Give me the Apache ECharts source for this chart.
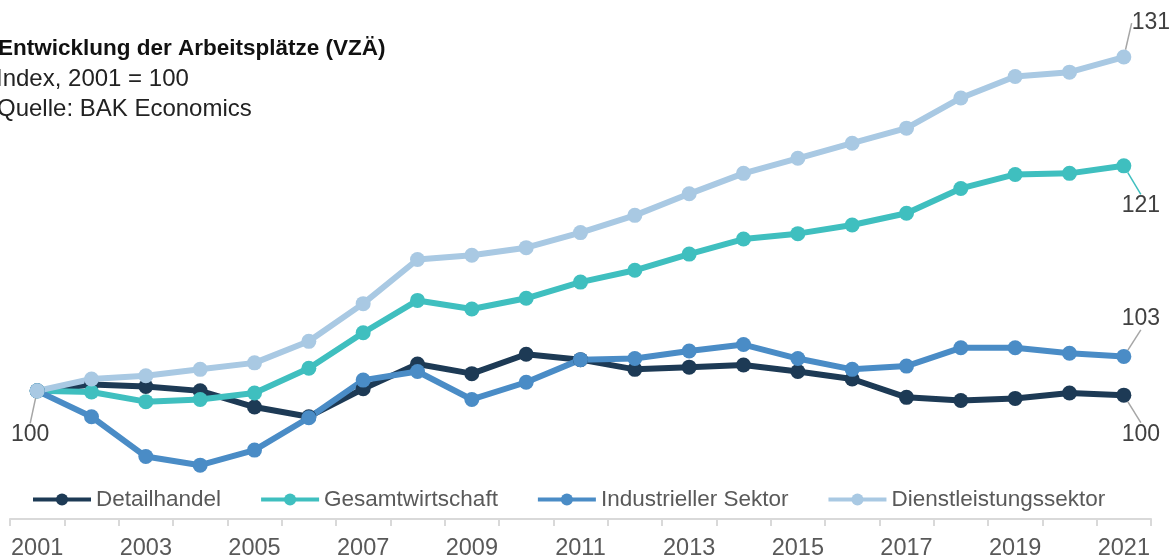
<!DOCTYPE html>
<html>
<head>
<meta charset="utf-8">
<script src="https://cdn.jsdelivr.net/npm/echarts@6/dist/echarts.min.js"></script>
<style>html,body{margin:0;padding:0;background:#fff}#c{width:1174px;height:558px}</style>
</head>
<body>
<div id="c"></div>
<script>
const years = ['2001','2002','2003','2004','2005','2006','2007','2008','2009','2010','2011','2012','2013','2014','2015','2016','2017','2018','2019','2020','2021'];
const detailhandel = [100,100.6,100.4,100.0,98.5,97.6,100.2,102.5,101.6,103.4,102.9,102.0,102.2,102.4,101.8,101.1,99.4,99.1,99.3,99.8,99.6];
const gesamtwirtschaft = [100,99.9,99.0,99.2,99.8,102.1,105.4,108.4,107.6,108.6,110.1,111.2,112.7,114.1,114.6,115.4,116.5,118.8,120.1,120.2,120.9];
const industriellerSektor = [100,97.6,93.9,93.1,94.5,97.5,101.0,101.8,99.2,100.8,102.9,103.0,103.7,104.3,103.0,102.0,102.3,104.0,104.0,103.5,103.2];
const dienstleistungssektor = [100,101.1,101.4,102.0,102.6,104.6,108.1,112.2,112.6,113.3,114.7,116.3,118.3,120.2,121.6,123.0,124.4,127.2,129.2,129.6,131.0];
const seriesNames = ['Detailhandel','Gesamtwirtschaft','Industrieller Sektor','Dienstleistungssektor'];

const FONT = '"Liberation Sans", Arial, sans-serif';
const colors = ['#1d3a55','#3fbfbf','#4a8cc6','#a9c9e3'];
const leaderColors = ['#a6a6a6','#3fbfbf','#a6a6a6','#a6a6a6'];
// label offsets (dx, dy) for end labels, per series
const endOffsets = [[17,39],[17,40],[17,-38],[27,-34]];
const startOffset = [-7,44];
const last = years.length - 1;

function buildData(values, si) {
  return values.map((v, i) => {
    const showEnd = i === last;
    const showStart = (si === 0 && i === 0);
    if (showEnd || showStart) {
      return {
        value: v,
        label: { show: true },
        labelLine: { show: true, lineStyle: { color: showStart ? '#a6a6a6' : leaderColors[si], width: 1.5 } }
      };
    }
    return v;
  });
}

const allValues = [detailhandel, gesamtwirtschaft, industriellerSektor, dienstleistungssektor];

const chart = echarts.init(document.getElementById('c'), null, {renderer: 'canvas'});
chart.setOption({
  animation: false,
  title: [
    { text: 'Entwicklung der Arbeitsplätze (VZÄ)', left: -2, top: 37, padding: 0,
      textStyle: { fontFamily: FONT, fontSize: 22.5, fontWeight: 'bold', color: '#111' } },
    { text: 'Index, 2001 = 100', left: -4, top: 67, padding: 0,
      textStyle: { fontFamily: FONT, fontSize: 24, fontWeight: 'normal', color: '#222' } },
    { text: 'Quelle: BAK Economics', left: -3, top: 97, padding: 0,
      textStyle: { fontFamily: FONT, fontSize: 24, fontWeight: 'normal', color: '#222' } }
  ],
  legend: {
    data: seriesNames,
    left: 31, top: 488,
    padding: 0,
    itemWidth: 58, itemHeight: 15, itemGap: 38,
    lineStyle: { width: 4 },
    textStyle: { fontFamily: FONT, fontSize: 22.5, color: '#595959' }
  },
  grid: { left: 10, right: 23, top: 14, bottom: 39, outerBoundsMode: 'none', containLabel: false },
  xAxis: {
    type: 'category', data: years, boundaryGap: true,
    axisLine: { lineStyle: { color: '#d9d9d9', width: 2 } },
    axisTick: { show: true, interval: 0, length: 7, lineStyle: { color: '#d9d9d9', width: 2 } },
    axisLabel: { interval: 1, fontFamily: FONT, fontSize: 23.5, color: '#595959', margin: 18 }
  },
  yAxis: { type: 'value', min: 88.1, max: 135, show: false },
  series: allValues.map((vals, si) => ({
    name: seriesNames[si],
    type: 'line',
    data: buildData(vals, si),
    symbol: 'circle', symbolSize: 15,
    lineStyle: { width: 6, color: colors[si] },
    itemStyle: { color: colors[si] },
    label: {
      show: false, position: 'inside',
      fontFamily: FONT, fontSize: 23, color: '#404040',
      formatter: p => Math.round(p.value)
    },
    labelLayout: p => {
      const o = p.dataIndex === 0 ? startOffset : endOffsets[si];
      return { dx: o[0], dy: o[1] };
    },
    emphasis: { disabled: true }
  }))
});
</script>
</body>
</html>
